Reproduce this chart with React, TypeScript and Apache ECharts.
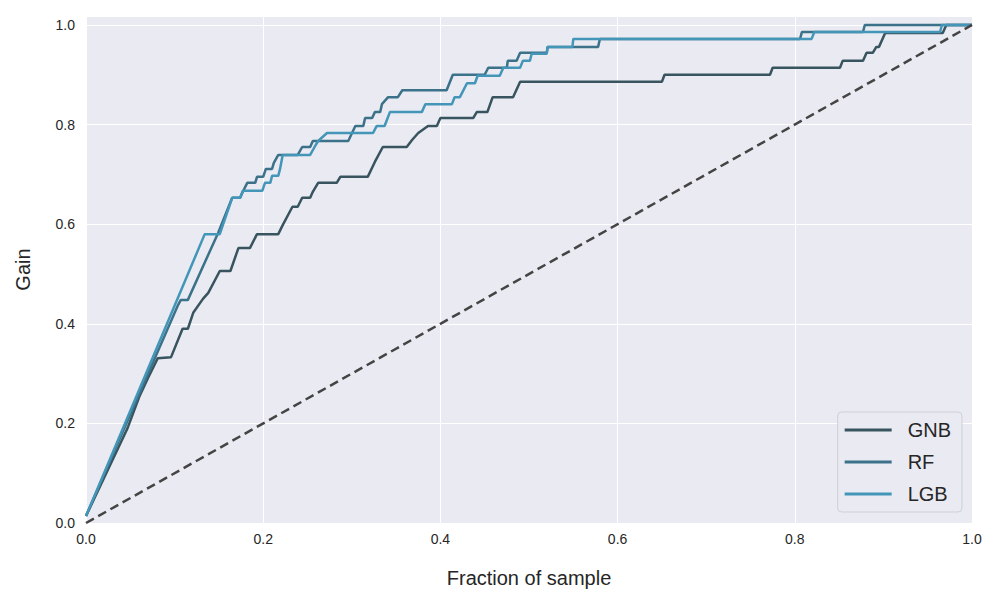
import React, { useEffect, useRef } from "react";
import * as echarts from "echarts";

const seriesNames = ["GNB", "RF", "LGB"];
const seriesColors = ["#38545f", "#3b7189", "#4396b8"];

// [fraction of sample, gain]
const gnb: [number, number][] = [
  [0, 0.014], [0.037, 0.153], [0.047, 0.191], [0.06, 0.253], [0.07, 0.291],
  [0.081, 0.331], [0.096, 0.333], [0.109, 0.39], [0.115, 0.39], [0.121, 0.422],
  [0.132, 0.45], [0.138, 0.462], [0.151, 0.506], [0.163, 0.506], [0.172, 0.552],
  [0.185, 0.552], [0.193, 0.58], [0.217, 0.58], [0.222, 0.598], [0.233, 0.635],
  [0.239, 0.635], [0.244, 0.653], [0.253, 0.653], [0.256, 0.665], [0.262, 0.683],
  [0.283, 0.683], [0.287, 0.695], [0.318, 0.695], [0.326, 0.725], [0.335, 0.755],
  [0.362, 0.755], [0.368, 0.769], [0.375, 0.783], [0.386, 0.797], [0.396, 0.797],
  [0.4, 0.813], [0.437, 0.813], [0.441, 0.825], [0.453, 0.825], [0.459, 0.855],
  [0.482, 0.855], [0.49, 0.886], [0.65, 0.886], [0.653, 0.9], [0.772, 0.9],
  [0.775, 0.914], [0.851, 0.914], [0.854, 0.928], [0.877, 0.928], [0.881, 0.944],
  [0.888, 0.944], [0.892, 0.956], [0.895, 0.956], [0.902, 0.984], [0.967, 0.984],
  [0.971, 1.0], [1.0, 1.0],
];

const rf: [number, number][] = [
  [0, 0.014], [0.104, 0.438], [0.107, 0.448], [0.115, 0.448], [0.149, 0.582],
  [0.165, 0.653], [0.174, 0.653], [0.177, 0.665], [0.182, 0.683], [0.191, 0.683],
  [0.193, 0.695], [0.2, 0.695], [0.203, 0.711], [0.21, 0.711], [0.212, 0.723],
  [0.217, 0.739], [0.239, 0.739], [0.244, 0.755], [0.253, 0.755], [0.256, 0.767],
  [0.296, 0.767], [0.304, 0.797], [0.313, 0.797], [0.315, 0.813], [0.323, 0.813],
  [0.326, 0.825], [0.332, 0.825], [0.334, 0.841], [0.341, 0.855], [0.352, 0.855],
  [0.357, 0.869], [0.407, 0.869], [0.414, 0.9], [0.45, 0.9], [0.454, 0.914],
  [0.475, 0.914], [0.476, 0.928], [0.486, 0.928], [0.49, 0.944], [0.52, 0.944],
  [0.521, 0.956], [0.578, 0.956], [0.58, 0.972], [0.806, 0.972], [0.808, 0.986],
  [0.877, 0.986], [0.879, 1.0], [1.0, 1.0],
];

const lgb: [number, number][] = [
  [0, 0.014], [0.134, 0.58], [0.151, 0.58], [0.165, 0.653], [0.174, 0.653],
  [0.177, 0.667], [0.199, 0.667], [0.202, 0.683], [0.208, 0.683], [0.21, 0.697],
  [0.217, 0.697], [0.219, 0.711], [0.222, 0.739], [0.253, 0.739], [0.258, 0.755],
  [0.262, 0.767], [0.272, 0.783], [0.324, 0.783], [0.328, 0.797], [0.337, 0.797],
  [0.343, 0.825], [0.379, 0.825], [0.383, 0.841], [0.413, 0.841], [0.416, 0.855],
  [0.422, 0.855], [0.43, 0.883], [0.439, 0.883], [0.442, 0.898], [0.467, 0.898],
  [0.471, 0.914], [0.49, 0.914], [0.493, 0.928], [0.501, 0.928], [0.503, 0.942],
  [0.52, 0.942], [0.521, 0.956], [0.549, 0.956], [0.55, 0.972], [0.819, 0.972],
  [0.822, 0.986], [0.964, 0.986], [0.966, 1.0], [1.0, 1.0],
];

const baseline: [number, number][] = [[0, 0], [1, 1]];

const xTicks = [0, 0.2, 0.4, 0.6, 0.8, 1.0];
const yTicks = [0, 0.2, 0.4, 0.6, 0.8, 1.0];

const FONT = "'Liberation Sans', Arial, 'DejaVu Sans', sans-serif";

export default function App() {
  const ref = useRef<HTMLDivElement>(null);
  useEffect(() => {
    if (!ref.current) return;
    const chart = echarts.init(ref.current, undefined, { renderer: "svg" });
    const fmt = (ticks: number[]) => (v: number) =>
      ticks.some((t) => Math.abs(t - v) < 1e-6) ? v.toFixed(1) : "";
    const datas = [gnb, rf, lgb];
    chart.setOption({
      animation: false,
      backgroundColor: "#ffffff",
      grid: { left: 86, right: 28, top: 16, bottom: 77, containLabel: false, show: true, backgroundColor: "#eaeaf2", borderWidth: 0 },
      xAxis: {
        type: "value",
        min: 0,
        max: 1,
        interval: 0.2,
        name: "Fraction of sample",
        nameLocation: "middle",
        nameGap: 45,
        nameTextStyle: { fontFamily: FONT, fontSize: 20, color: "#262626" },
        axisLine: { show: false },
        axisTick: { show: false },
        axisLabel: { fontFamily: FONT, fontSize: 14, color: "#262626", margin: 9, formatter: fmt(xTicks) },
        splitLine: { show: true, lineStyle: { color: "#ffffff", width: 1 } },
      },
      yAxis: {
        type: "value",
        min: 0,
        max: 1.018,
        interval: 0.2,
        name: "Gain",
        nameLocation: "middle",
        nameGap: 53,
        nameRotate: 90,
        nameTextStyle: { fontFamily: FONT, fontSize: 20, color: "#262626" },
        axisLine: { show: false },
        axisTick: { show: false },
        axisLabel: { fontFamily: FONT, fontSize: 14, color: "#262626", margin: 11, formatter: fmt(yTicks) },
        splitLine: { show: true, lineStyle: { color: "#ffffff", width: 1 } },
      },
      legend: {
        data: seriesNames,
        orient: "vertical",
        right: 38,
        top: 412,
        padding: [8, 11, 8, 7],
        itemGap: 12,
        itemWidth: 47,
        itemHeight: 3,
        icon: "rect",
        backgroundColor: "#eaeaf2",
        borderColor: "#cfcfd6",
        borderWidth: 1,
        borderRadius: 4,
        textStyle: { fontFamily: FONT, fontSize: 20, color: "#262626", padding: [0, 0, 0, 11], height: 19, lineHeight: 19 },
      },
      series: [
        ...seriesNames.map((name, i) => ({
          name,
          type: "line",
          data: datas[i],
          showSymbol: false,
          symbol: "none",
          color: seriesColors[i],
          lineStyle: { color: seriesColors[i], width: 2.5 },
          z: 3 + i,
        })),
        {
          name: "baseline",
          type: "line",
          data: baseline,
          showSymbol: false,
          symbol: "none",
          lineStyle: { color: "#444444", width: 2.5, type: [9, 5] },
          z: 10,
        },
      ],
    });
    return () => chart.dispose();
  }, []);
  return <div ref={ref} style={{ width: 1000, height: 600, position: "absolute", left: 0, top: 0 }} />;
}
